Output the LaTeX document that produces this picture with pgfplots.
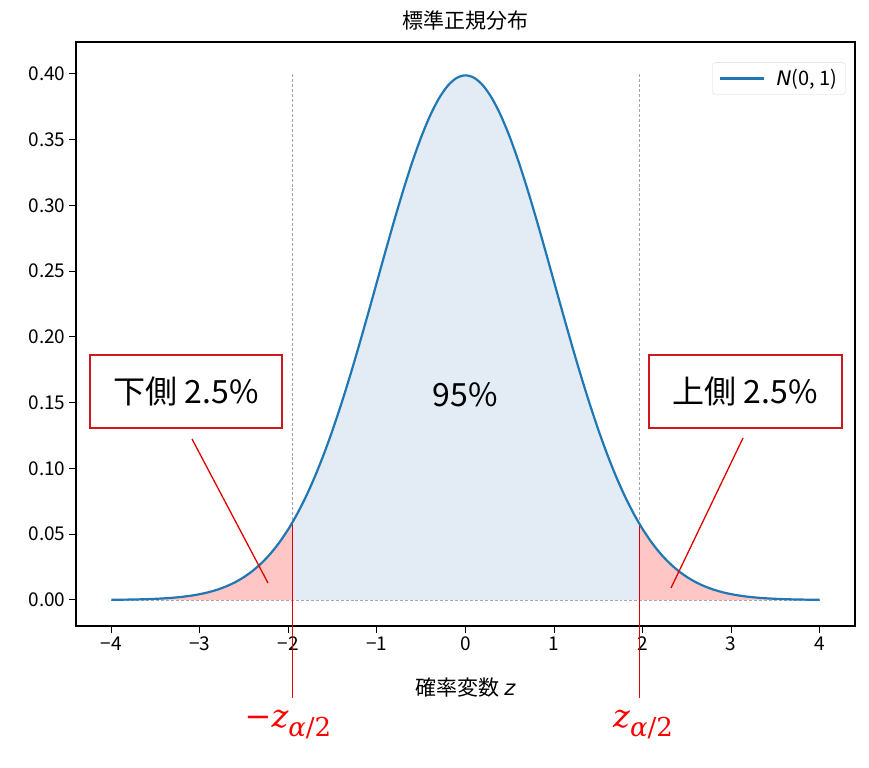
\documentclass[border=0pt]{standalone}
\usepackage{pgfplots}
\pgfplotsset{compat=1.18}
\usepackage{pgfplotstable}
\usepackage{fontspec}
\setmainfont{Noto Sans CJK JP}
\newfontfamily\dejavu{DejaVu Sans}
\newfontfamily\dvserif{DejaVu Serif}
\definecolor{c0}{HTML}{1F77B4}
\definecolor{bluefill}{RGB}{227,236,245}
\definecolor{redfill}{RGB}{255,198,198}
\definecolor{boxred}{RGB}{205,25,30}
\definecolor{linered}{RGB}{225,0,0}
\definecolor{labred}{RGB}{255,0,0}
\newcommand{\zsub}{{\fontsize{26bp}{30bp}\selectfont\raisebox{-9bp}{\itshape α\upshape/2}}}

\pgfplotstableread{
x y
-4.0 0.000134
-3.9 0.000199
-3.8 0.000292
-3.7 0.000425
-3.6 0.000612
-3.5 0.000873
-3.4 0.001232
-3.3 0.001723
-3.2 0.002384
-3.1 0.003267
-3.0 0.004432
-2.9 0.005953
-2.8 0.007915
-2.7 0.010421
-2.6 0.013583
-2.5 0.017528
-2.4 0.022395
-2.3 0.028327
-2.2 0.035475
-2.1 0.043984
-2.0 0.053991
-1.96 0.058441
-1.9 0.065616
-1.8 0.078950
-1.7 0.094049
-1.6 0.110921
-1.5 0.129518
-1.4 0.149727
-1.3 0.171369
-1.2 0.194186
-1.1 0.217852
-1.0 0.241971
-0.9 0.266085
-0.8 0.289692
-0.7 0.312254
-0.6 0.333225
-0.5 0.352065
-0.4 0.368270
-0.3 0.381388
-0.2 0.391043
-0.1 0.396953
0.0 0.398942
0.1 0.396953
0.2 0.391043
0.3 0.381388
0.4 0.368270
0.5 0.352065
0.6 0.333225
0.7 0.312254
0.8 0.289692
0.9 0.266085
1.0 0.241971
1.1 0.217852
1.2 0.194186
1.3 0.171369
1.4 0.149727
1.5 0.129518
1.6 0.110921
1.7 0.094049
1.8 0.078950
1.9 0.065616
1.96 0.058441
2.0 0.053991
2.1 0.043984
2.2 0.035475
2.3 0.028327
2.4 0.022395
2.5 0.017528
2.6 0.013583
2.7 0.010421
2.8 0.007915
2.9 0.005953
3.0 0.004432
3.1 0.003267
3.2 0.002384
3.3 0.001723
3.4 0.001232
3.5 0.000873
3.6 0.000612
3.7 0.000425
3.8 0.000292
3.9 0.000199
4.0 0.000134
}\pdfdata

\begin{document}
\begin{tikzpicture}
\path[use as bounding box] (0,0) rectangle (869bp,768bp);
\begin{axis}[
  at={(76bp,142bp)}, anchor=south west,
  scale only axis, width=779bp, height=584bp,
  xmin=-4.4, xmax=4.4, ymin=-0.0198, ymax=0.4243,
  clip=false,
  axis line style={line width=1.2bp},
  tick style={line width=1bp, black},
  major tick length=7bp,
  tick align=outside, tick pos=left,
  xtick={-4,-3,-2,-1,0,1,2,3,4},
  xticklabels={−4,−3,−2,−1,0,1,2,3,4},
  ytick={0,0.05,0.10,0.15,0.20,0.25,0.30,0.35,0.40},
  yticklabel={\pgfmathprintnumber[fixed,fixed zerofill,precision=2]{\tick}},
  /pgf/number format/assume math mode=true,
  ticklabel style={font=\fontsize{19bp}{22bp}\selectfont},
  title={標準正規分布},
  title style={at={(rel axis cs:0.5,1)}, anchor=center, yshift=15bp, font=\fontsize{21bp}{24bp}\selectfont},
  xlabel={確率変数 {\dejavu\itshape z}},
  xlabel style={at={(rel axis cs:0.5,0)}, anchor=center, yshift=-62bp, font=\fontsize{21bp}{24bp}\selectfont},
  legend style={at={(rel axis cs:0.988,0.965)}, anchor=north east, draw=black!15, rounded corners=3bp,
    font=\fontsize{20bp}{24bp}\selectfont, inner xsep=6bp, inner ysep=5bp},
  legend cell align=left,
  legend image code/.code={\draw[#1] (0bp,0bp) -- (44bp,0bp); \path (54bp,0bp);},
]
% dashed guide lines
\addplot[forget plot, gray!70, densely dashed, line width=0.7bp] coordinates {(-4,0) (4,0)};
% fills
\addplot[forget plot, draw=none, fill=redfill] table[x=x,y=y, restrict x to domain=-4:-1.95] {\pdfdata} \closedcycle;
\addplot[forget plot, draw=none, fill=bluefill] table[x=x,y=y, restrict x to domain=-1.97:1.97] {\pdfdata} \closedcycle;
\addplot[forget plot, draw=none, fill=redfill] table[x=x,y=y, restrict x to domain=1.95:4] {\pdfdata} \closedcycle;
\addplot[forget plot, gray!70, densely dashed, line width=0.7bp] coordinates {(-1.96,0) (-1.96,0.40)};
\addplot[forget plot, gray!70, densely dashed, line width=0.7bp] coordinates {(1.96,0) (1.96,0.40)};
% red markers below axis
\draw[draw=linered, line width=0.8bp] (axis cs:-1.96,0.058441) -- (axis cs:-1.96,-0.0745);
\draw[draw=linered, line width=0.8bp] (axis cs:1.96,0.058441) -- (axis cs:1.96,-0.0745);
% curve
\addplot[c0, line width=2.2bp, smooth] table[x=x,y=y] {\pdfdata};
\addlegendentry{{\dejavu\itshape N}(0, 1)}
\end{axis}
% annotation boxes
\draw[boxred, line width=1.6bp, fill=white] (90bp,340bp) rectangle (282bp,413bp);
\node[font=\fontsize{32bp}{36bp}\selectfont] at (186bp,377bp) {下側 2.5\%};
\draw[boxred, line width=1.6bp, fill=white] (649bp,340bp) rectangle (842bp,413bp);
\node[font=\fontsize{32bp}{36bp}\selectfont] at (745bp,377bp) {上側 2.5\%};
\node[font=\fontsize{32bp}{36bp}\selectfont] at (465bp,373bp) {95\%};
\draw[linered, line width=1.3bp] (192bp,329bp) -- (268bp,185bp);
\draw[linered, line width=1.3bp] (743bp,330bp) -- (671bp,180bp);
% z labels
\node[labred, anchor=base, inner sep=0pt, font=\dvserif\fontsize{32bp}{36bp}\selectfont] at (288bp,40bp) {−\itshape z\zsub};
\node[labred, anchor=base, inner sep=0pt, font=\dvserif\fontsize{32bp}{36bp}\selectfont] at (643bp,40bp) {\itshape z\zsub};
\end{tikzpicture}
\end{document}
